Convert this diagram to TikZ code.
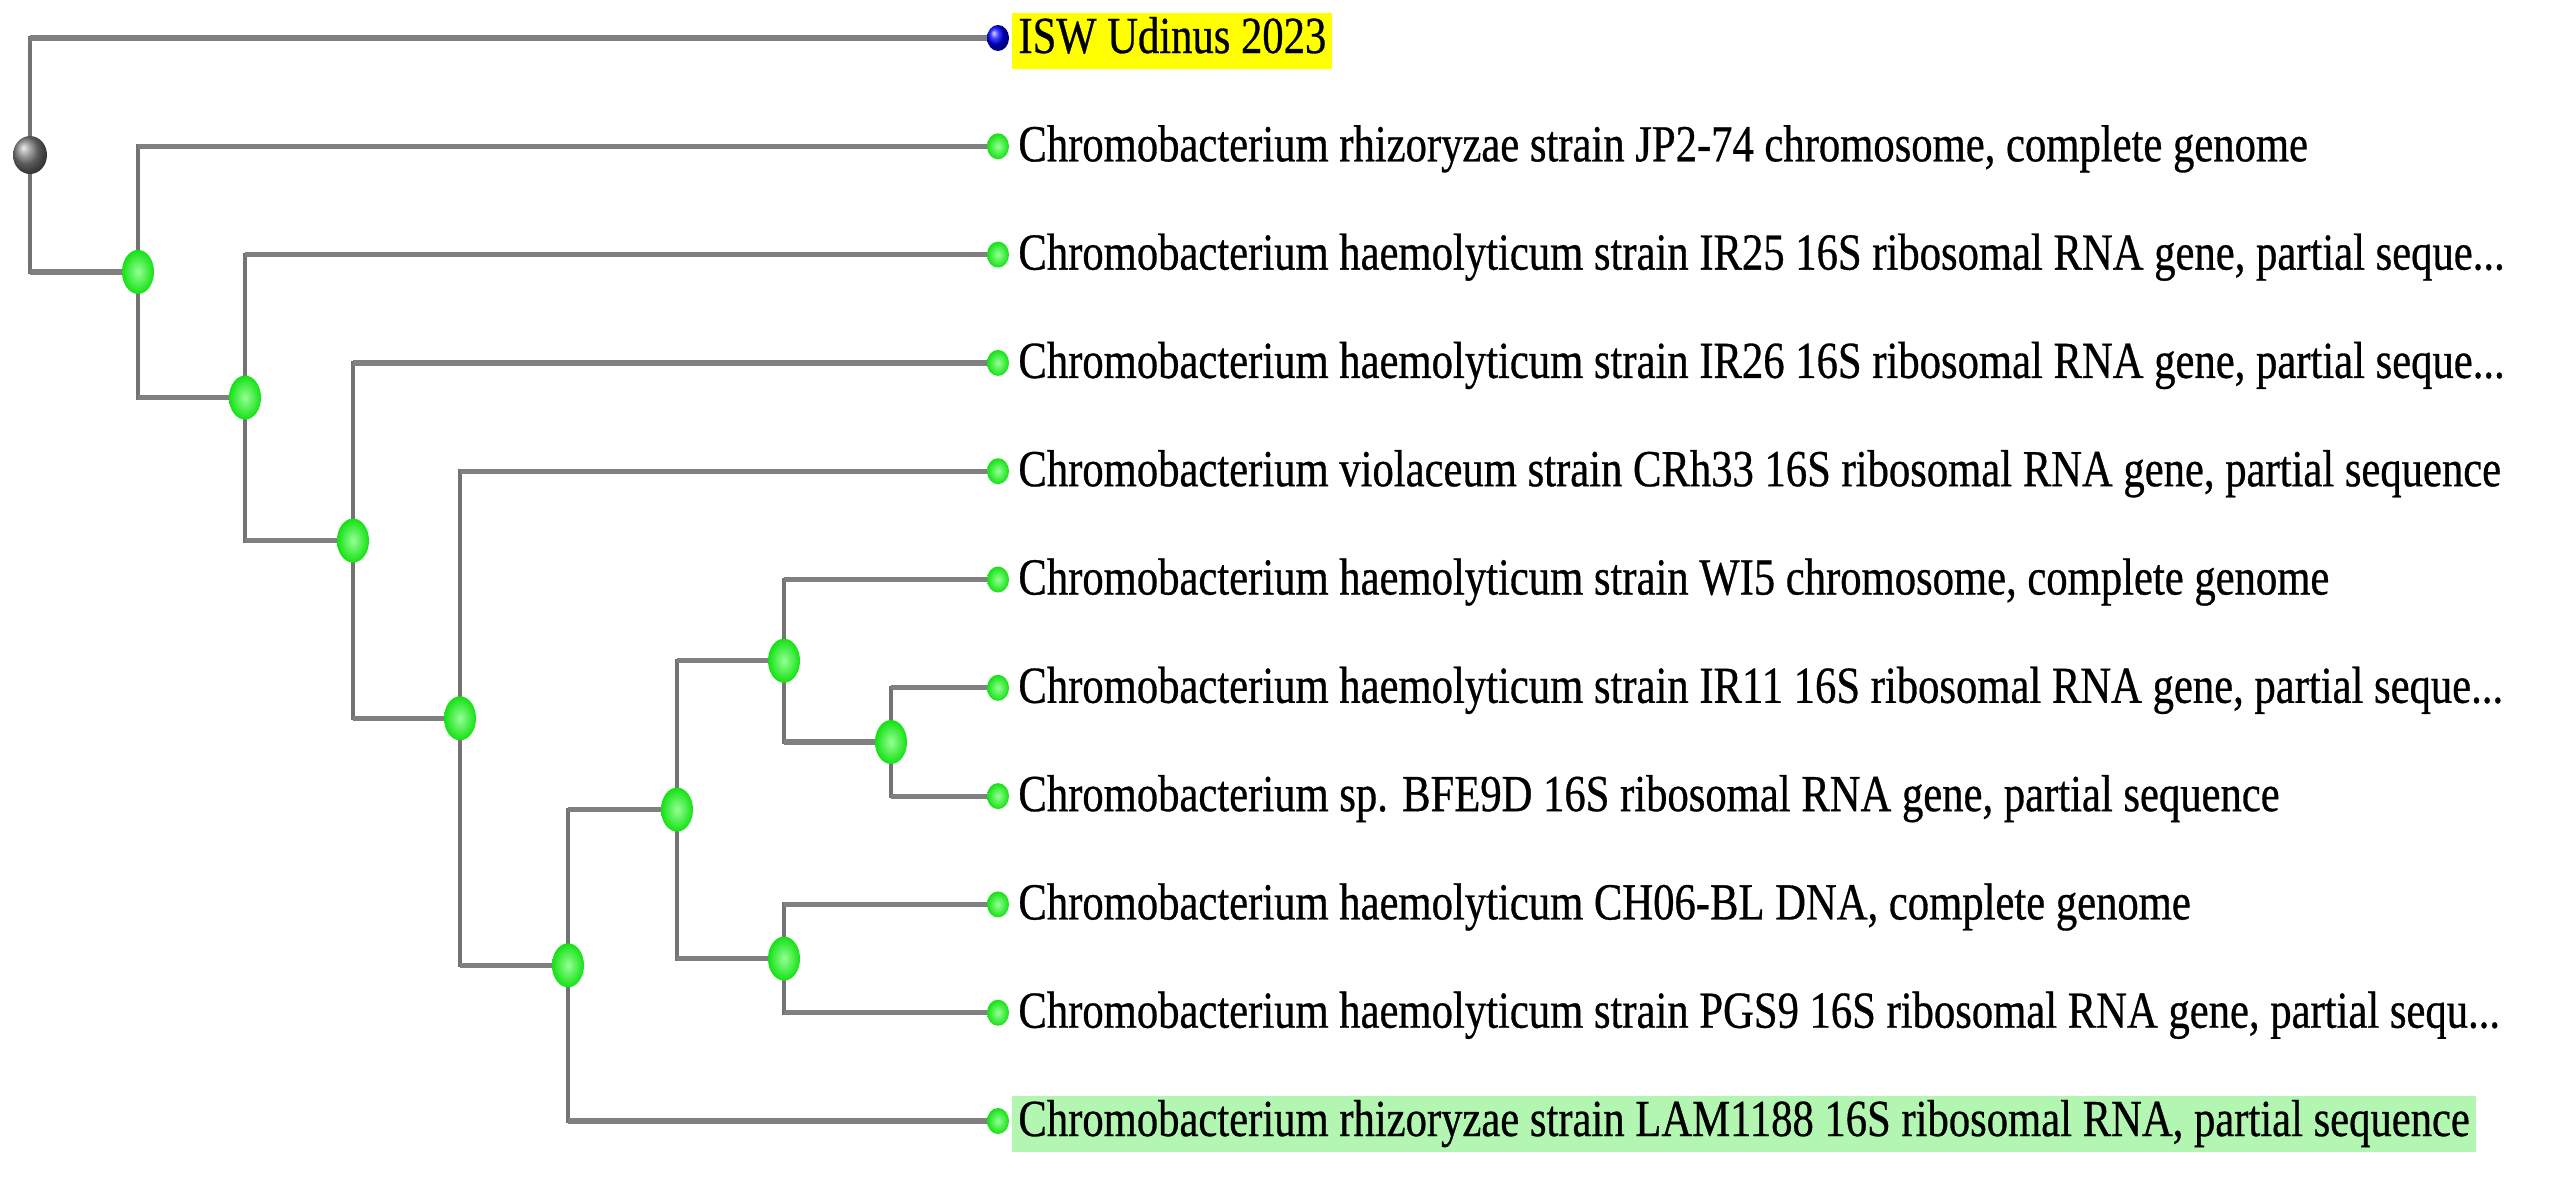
\documentclass[tikz,border=0pt]{standalone}
\usepackage{fontspec}
\setmainfont{Liberation Serif}[FakeStretch=0.82,FakeBold=0.6]
\usetikzlibrary{shapes.geometric,backgrounds}
\definecolor{linegray}{RGB}{128,128,128}
\definecolor{hiyellow}{RGB}{255,255,0}
\definecolor{higreen}{RGB}{178,246,178}
\definecolor{nodegreen}{RGB}{20,225,20}
\definecolor{nodelight}{RGB}{150,255,150}
\tikzset{
  greenball/.style={shading=radial, inner color=nodelight, outer color=nodegreen},
  inner/.style={ellipse, greenball, minimum width=16pt, minimum height=22pt, inner sep=0pt},
  rootnode/.style={ellipse, shading=ball, ball color=gray, minimum width=17pt, minimum height=19pt, inner sep=0pt},
  leaf/.style={ellipse, greenball, minimum width=11pt, minimum height=13pt, inner sep=0pt},
  leafblue/.style={ellipse, shading=ball, ball color=blue, minimum width=11pt, minimum height=13pt, inner sep=0pt},
  lab/.style={anchor=base west, inner xsep=3pt, inner ysep=0pt, text height=20pt, text depth=8pt, font=\fontsize{26pt}{30pt}\selectfont, text=black},
  vln/.style={draw=linegray!90!black, line width=2pt, line cap=rect},
  hln/.style={draw=linegray, line width=2.6pt},
}
\newcommand\treeedge[2]{%
  \draw[vln] (#1.center) -- (#1.center |- #2.center);
  \draw[hln] (#1.center |- #2.center) -- (#2.center);}
\begin{document}
\begin{tikzpicture}[x=0.5pt,y=-0.5pt]
\useasboundingbox (0,0) rectangle (2560,1184);
% leaves
\node[leafblue] (L0) at (998,38) {};
\node[leaf] (L1) at (998,146.3) {};
\node[leaf] (L2) at (998,254.6) {};
\node[leaf] (L3) at (998,362.9) {};
\node[leaf] (L4) at (998,471.2) {};
\node[leaf] (L5) at (998,579.5) {};
\node[leaf] (L6) at (998,687.8) {};
\node[leaf] (L7) at (998,796.1) {};
\node[leaf] (L8) at (998,904.4) {};
\node[leaf] (L9) at (998,1012.7) {};
\node[leaf] (L10) at (998,1121) {};
% labels
\node[lab, fill=hiyellow] (T0) at (1012,53) {ISW Udinus 2023};
\node[lab] (T1) at (1012,161.3) {Chromobacterium rhizoryzae strain JP2-74 chromosome, complete genome};
\node[lab] (T2) at (1012,269.6) {Chromobacterium haemolyticum strain IR25 16S ribosomal RNA gene, partial seque...};
\node[lab] (T3) at (1012,377.9) {Chromobacterium haemolyticum strain IR26 16S ribosomal RNA gene, partial seque...};
\node[lab] (T4) at (1012,486.2) {Chromobacterium violaceum strain CRh33 16S ribosomal RNA gene, partial sequence};
\node[lab] (T5) at (1012,594.5) {Chromobacterium haemolyticum strain WI5 chromosome, complete genome};
\node[lab] (T6) at (1012,702.8) {Chromobacterium haemolyticum strain IR11 16S ribosomal RNA gene, partial seque...};
\node[lab] (T7) at (1012,811.1) {Chromobacterium sp. BFE9D 16S ribosomal RNA gene, partial sequence};
\node[lab] (T8) at (1012,919.4) {Chromobacterium haemolyticum CH06-BL DNA, complete genome};
\node[lab] (T9) at (1012,1027.7) {Chromobacterium haemolyticum strain PGS9 16S ribosomal RNA gene, partial sequ...};
\node[lab, fill=higreen] (T10) at (1012,1136) {Chromobacterium rhizoryzae strain LAM1188 16S ribosomal RNA, partial sequence};
% internal nodes
\node[rootnode] (R) at (30,155) {};
\node[inner] (A) at (138,271.9) {};
\node[inner] (B) at (245,397.6) {};
\node[inner] (C) at (353,540.6) {};
\node[inner] (D) at (460,718.3) {};
\node[inner] (E) at (568,965.3) {};
\node[inner] (F) at (677,809.6) {};
\node[inner] (G) at (784,660.7) {};
\node[inner] (H) at (891,742) {};
\node[inner] (I) at (784,958.6) {};
% edges
\begin{scope}[on background layer]
\treeedge{R}{L0}\treeedge{R}{A}
\treeedge{A}{L1}\treeedge{A}{B}
\treeedge{B}{L2}\treeedge{B}{C}
\treeedge{C}{L3}\treeedge{C}{D}
\treeedge{D}{L4}\treeedge{D}{E}
\treeedge{E}{F}\treeedge{E}{L10}
\treeedge{F}{G}\treeedge{F}{I}
\treeedge{G}{L5}\treeedge{G}{H}
\treeedge{H}{L6}\treeedge{H}{L7}
\treeedge{I}{L8}\treeedge{I}{L9}
\end{scope}
\end{tikzpicture}
\end{document}
